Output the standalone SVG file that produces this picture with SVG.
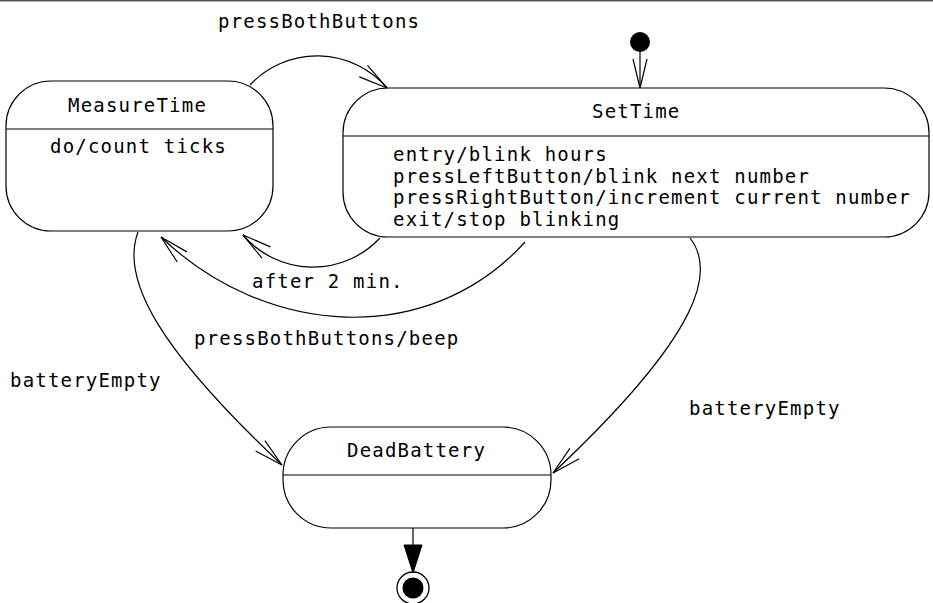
<svg xmlns="http://www.w3.org/2000/svg" width="933" height="603" viewBox="0 0 933 603">
<style>
  text { font-family: "DejaVu Sans Mono", "Liberation Mono", monospace; font-size: 19px; letter-spacing: 1.2px; fill: #000; }
  .box { fill: #fff; stroke: #000; stroke-width: 1.2; }
  .div { stroke: #000; stroke-width: 1.2; }
  .edge { fill: none; stroke: #000; stroke-width: 1.2; }
  .head { fill: none; stroke: #000; stroke-width: 1.2; }
</style>
<defs>
  <path id="open" class="head" d="M-29,-7 L0,0 L-29,7"/>
</defs>
<rect x="0" y="0" width="933" height="603" fill="#fff"/>
<line x1="0" y1="0.75" x2="933" y2="0.75" stroke="#555" stroke-width="1.5"/>

<g id="MeasureTime">
  <rect class="box" x="6" y="81" width="267" height="150" rx="45"/>
  <line class="div" x1="6" y1="129" x2="273" y2="129"/>
  <text x="68" y="112">MeasureTime</text>
  <text x="50" y="153">do/count ticks</text>
</g>

<g id="SetTime">
  <rect class="box" x="343" y="88" width="586" height="149" rx="45"/>
  <line class="div" x1="343" y1="136" x2="929" y2="136"/>
  <text x="592" y="118">SetTime</text>
  <text x="393" y="161">entry/blink hours</text>
  <text x="393" y="183">pressLeftButton/blink next number</text>
  <text x="393" y="204">pressRightButton/increment current number</text>
  <text x="393" y="226">exit/stop blinking</text>
</g>

<g id="DeadBattery">
  <rect class="box" x="283" y="427" width="268" height="101" rx="48"/>
  <line class="div" x1="283" y1="475" x2="551" y2="475"/>
  <text x="347" y="457">DeadBattery</text>
</g>

<g id="Initial">
  <circle cx="640" cy="42" r="10" fill="#000"/>
</g>

<g id="Final">
  <circle cx="413" cy="588" r="16" fill="#fff" stroke="#000" stroke-width="1.3"/>
  <circle cx="413" cy="588" r="10.5" fill="#000"/>
</g>

<g id="connectors">
  <!-- initial -> SetTime -->
  <line class="edge" x1="640" y1="52" x2="640" y2="88"/>
  <use href="#open" transform="translate(640,88) rotate(90)"/>

  <!-- MeasureTime -> SetTime : pressBothButtons -->
  <path class="edge" d="M250,85 A92,92 0 0 1 387,88"/>
  <use href="#open" transform="translate(387,88) rotate(35.5)"/>
  <text x="218" y="28">pressBothButtons</text>

  <!-- SetTime -> MeasureTime : after 2 min. -->
  <path class="edge" d="M380,238 A92,92 0 0 1 243,235"/>
  <use href="#open" transform="translate(243,235) rotate(217)"/>
  <text x="252" y="288">after 2 min.</text>

  <!-- SetTime -> MeasureTime : pressBothButtons/beep -->
  <path class="edge" d="M525,242 C428,349 265,337 161,237"/>
  <use href="#open" transform="translate(161,237) rotate(223.5)"/>
  <text x="194" y="345">pressBothButtons/beep</text>

  <!-- MeasureTime -> DeadBattery : batteryEmpty -->
  <path class="edge" d="M138,232 C120,280 160,350 282,465"/>
  <use href="#open" transform="translate(282,465) rotate(41.4)"/>
  <text x="10" y="387">batteryEmpty</text>

  <!-- SetTime -> DeadBattery : batteryEmpty -->
  <path class="edge" d="M690,238 C715,270 705,330 553,473"/>
  <use href="#open" transform="translate(553,473) rotate(138)"/>
  <text x="689" y="415">batteryEmpty</text>

  <!-- DeadBattery -> final -->
  <line class="edge" x1="413" y1="528" x2="413" y2="546"/>
  <polygon points="404,545 422,545 413,573" fill="#000" stroke="#000" stroke-width="1"/>
</g>
</svg>
